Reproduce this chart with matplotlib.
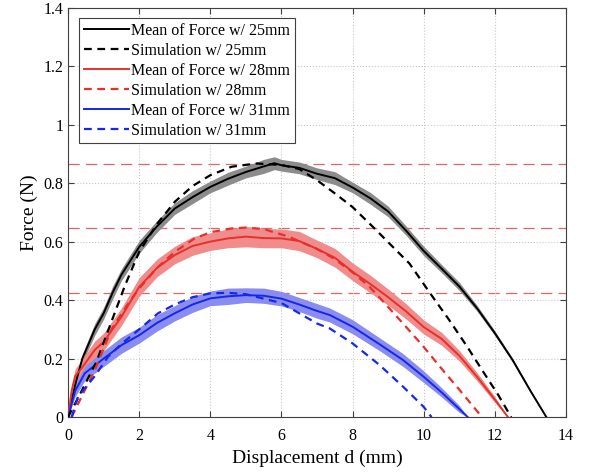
import numpy as np
import matplotlib.pyplot as plt

plt.rcParams['font.family'] = ['Liberation Serif', 'DejaVu Serif']

# measured mean force curves (d in mm, F in N) and half-width of the shaded band
d_25 = [0, 0.2, 0.4, 0.75, 1.0, 1.25, 1.5, 2.0, 2.5, 3.0, 3.5, 4.0, 4.5, 5.0, 5.5, 5.8,
        6.0, 6.5, 7.0, 7.5, 8.0, 8.5, 9.0, 9.5, 10.0, 10.5, 11.0, 11.5, 12.0, 12.5, 13.0, 13.45]
f_25 = [0, 0.11, 0.2, 0.30, 0.355, 0.425, 0.487, 0.582, 0.652, 0.713, 0.752, 0.787, 0.815,
        0.838, 0.857, 0.868, 0.861, 0.852, 0.832, 0.817, 0.785, 0.748, 0.703, 0.638, 0.568,
        0.508, 0.447, 0.372, 0.287, 0.195, 0.09, 0]
s_25 = [0.0, 0.01, 0.015, 0.02, 0.02, 0.022, 0.02, 0.022, 0.02, 0.02, 0.022, 0.02, 0.022,
        0.02, 0.024, 0.022, 0.02, 0.02, 0.02, 0.022, 0.018, 0.02, 0.018, 0.016, 0.016,
        0.014, 0.014, 0.01, 0.008, 0.006, 0.004, 0.0]

d_28 = [0, 0.1, 0.2, 0.4, 0.75, 1.0, 1.5, 2.0, 2.5, 3.0, 3.5, 4.0, 4.5, 5.0, 5.5, 6.0,
        6.5, 7.0, 7.5, 8.0, 8.5, 9.0, 9.5, 10.0, 10.5, 11.0, 11.5, 12.0, 12.37]
f_28 = [0, 0.09, 0.14, 0.17, 0.23, 0.257, 0.343, 0.445, 0.51, 0.554, 0.585, 0.60, 0.611,
        0.617, 0.612, 0.611, 0.602, 0.575, 0.545, 0.497, 0.455, 0.41, 0.362, 0.308, 0.268,
        0.21, 0.138, 0.06, 0]
s_28 = [0.0, 0.02, 0.025, 0.028, 0.03, 0.03, 0.03, 0.032, 0.03, 0.03, 0.032, 0.03, 0.032,
        0.035, 0.033, 0.032, 0.033, 0.03, 0.032, 0.03, 0.03, 0.028, 0.026, 0.024, 0.022,
        0.018, 0.014, 0.01, 0.0]

d_31 = [0, 0.2, 0.47, 1.0, 1.5, 2.0, 2.5, 3.0, 3.5, 4.0, 4.5, 5.0, 5.5, 6.0, 6.5, 7.0,
        7.36, 8.0, 8.76, 9.42, 10.0, 10.5, 11.0, 11.24]
f_31 = [0, 0.09, 0.15, 0.20, 0.246, 0.28, 0.322, 0.355, 0.385, 0.406, 0.413, 0.417, 0.415,
        0.405, 0.385, 0.363, 0.349, 0.309, 0.249, 0.195, 0.138, 0.085, 0.028, 0]
s_31 = [0.0, 0.02, 0.025, 0.027, 0.028, 0.027, 0.028, 0.026, 0.027, 0.025, 0.028, 0.025,
        0.026, 0.025, 0.024, 0.025, 0.024, 0.024, 0.022, 0.022, 0.02, 0.016, 0.012, 0.0]

# simulation curves
ds_25 = [0, 0.3, 0.8, 1.2, 1.6, 2.0, 2.5, 3.0, 3.5, 4.0, 4.6, 5.3, 6.0, 6.5, 7.0, 7.5,
         8.0, 8.6, 9.0, 9.6, 10.2, 10.7, 11.2, 11.7, 12.1, 12.46]
fs_25 = [0, 0.07, 0.19, 0.32, 0.45, 0.565, 0.66, 0.736, 0.79, 0.827, 0.856, 0.867, 0.862,
         0.848, 0.81, 0.765, 0.718, 0.647, 0.598, 0.525, 0.42, 0.335, 0.245, 0.15, 0.075, 0]

ds_28 = [0.1, 0.38, 0.75, 1.22, 1.7, 2.0, 2.5, 3.0, 3.55, 4.0, 4.6, 5.0, 5.5, 6.2, 7.0,
         7.5, 8.0, 8.48, 8.86, 9.42, 10.0, 10.54, 10.96, 11.3, 11.64]
fs_28 = [0, 0.07, 0.16, 0.30, 0.39, 0.44, 0.51, 0.565, 0.61, 0.632, 0.645, 0.648, 0.643,
         0.617, 0.575, 0.54, 0.495, 0.445, 0.395, 0.32, 0.24, 0.16, 0.10, 0.05, 0]

ds_31 = [0.1, 0.28, 0.75, 1.12, 1.5, 2.0, 2.53, 3.0, 3.5, 4.0, 4.5, 5.0, 5.5, 6.0, 6.5,
         7.0, 7.36, 8.0, 8.76, 9.42, 10.0, 10.22]
fs_31 = [0, 0.07, 0.14, 0.206, 0.25, 0.30, 0.355, 0.385, 0.41, 0.423, 0.425, 0.42, 0.405,
         0.39, 0.355, 0.32, 0.303, 0.252, 0.178, 0.104, 0.035, 0]

peak_levels = [0.867, 0.647, 0.423]

fig = plt.figure(figsize=(5.92, 4.74), dpi=100)
ax = fig.add_axes([0.115, 0.12, 0.841, 0.864])

for lvl in peak_levels:
    ax.axhline(lvl, color='#e06666', lw=0.9, ls=(0, (9, 5)), zorder=1)

ax.fill_between(d_25, np.array(f_25) - s_25, np.array(f_25) + s_25,
                color='#8c8c8c', lw=0, zorder=2)
ax.fill_between(d_28, np.array(f_28) - s_28, np.array(f_28) + s_28,
                color='#f08c8c', lw=0, zorder=2)
ax.fill_between(d_31, np.array(f_31) - s_31, np.array(f_31) + s_31,
                color='#8a8cf0', lw=0, zorder=2)

ax.plot(d_25, f_25, color='black', lw=1.4, zorder=3, label='Mean of Force w/ 25mm')
ax.plot(ds_25, fs_25, color='black', lw=1.6, ls=(0, (3.5, 2.5)), zorder=4,
        label='Simulation w/ 25mm')
ax.plot(d_28, f_28, color='#e8302a', lw=1.4, zorder=3, label='Mean of Force w/ 28mm')
ax.plot(ds_28, fs_28, color='#e8302a', lw=1.6, ls=(0, (3.5, 2.5)), zorder=4,
        label='Simulation w/ 28mm')
ax.plot(d_31, f_31, color='#1428e6', lw=1.4, zorder=3, label='Mean of Force w/ 31mm')
ax.plot(ds_31, fs_31, color='#1428e6', lw=1.6, ls=(0, (3.5, 2.5)), zorder=4,
        label='Simulation w/ 31mm')

ax.set_xlim(0, 14)
ax.set_ylim(0, 1.4)
ax.set_xticks(range(0, 15, 2))
ax.set_yticks([0, 0.2, 0.4, 0.6, 0.8, 1, 1.2, 1.4])
ax.set_yticklabels(['0', '0.2', '0.4', '0.6', '0.8', '1', '1.2', '1.4'])
ax.grid(True, ls=':', color='#c8c8c8', lw=0.8)
ax.tick_params(direction='in', top=True, right=True, labelsize=11.5,
               color='#404040', length=4)
ax.tick_params(axis='x', pad=8)
for sp in ax.spines.values():
    sp.set_color('#404040')

ax.set_xlabel('Displacement d (mm)', fontsize=14, labelpad=4)
ax.set_ylabel('Force (N)', fontsize=14, labelpad=4)

leg = ax.legend(loc='upper left', bbox_to_anchor=(0.022, 0.975), borderaxespad=0,
                fontsize=11.5, handlelength=2.8, handletextpad=0.15,
                labelspacing=0.25, borderpad=0.3, fancybox=False, framealpha=1)
leg.get_frame().set_edgecolor('#404040')
leg.get_frame().set_linewidth(0.8)

plt.savefig('out.png', dpi=100)
